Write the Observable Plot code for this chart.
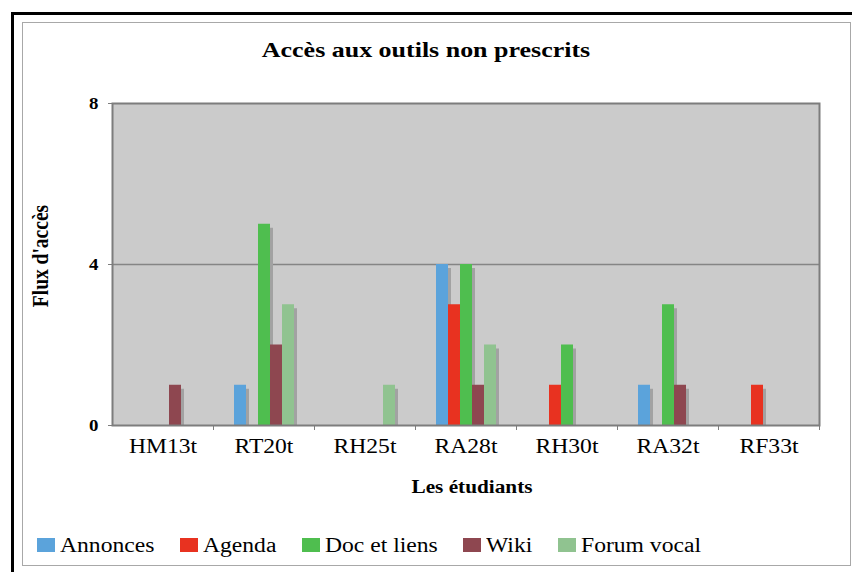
<!DOCTYPE html>
<html><head><meta charset="utf-8">
<script src="https://cdn.jsdelivr.net/npm/d3@7"></script>
<script src="https://cdn.jsdelivr.net/npm/@observablehq/plot@0.6"></script>
<style>
html,body{margin:0;padding:0;background:#fff;}
body{width:852px;height:572px;position:relative;overflow:hidden;font-family:"Liberation Serif","Times New Roman",serif;color:#000;}
#outer{position:absolute;left:11px;top:12px;width:900px;height:620px;border-left:3px solid #000;border-top:3px solid #000;}
#inner{position:absolute;left:22px;top:22px;width:827px;height:542px;border:1px solid #a8a8a8;}
#chart{position:absolute;left:0;top:0;}
.lbl{position:absolute;white-space:nowrap;line-height:1;font-weight:bold;}
#title{left:426px;top:39px;font-size:22px;transform:translateX(-50%) scaleX(1.18);}
#xlabel{left:472px;top:478px;font-size:18px;transform:translateX(-50%) scaleX(1.18);}
#ylabel{left:40px;top:256px;font-size:19.5px;transform:translate(-50%,-50%) rotate(-90deg) scale(1,1.2);}
#legend{position:absolute;left:37px;top:535px;display:flex;align-items:center;font-size:20px;line-height:1;}
#legend .item{display:flex;align-items:center;margin-right:25.5px;}
#legend .sw{display:inline-block;width:18px;height:14px;margin-right:5px;}
#legend .tx{display:inline-block;white-space:nowrap;}
#legend .tx span{display:inline-block;transform-origin:left center;}
</style></head>
<body>
<div id="chart"></div>
<div id="outer"></div>
<div id="inner"></div>
<div class="lbl" id="title">Accès aux outils non prescrits</div>
<div class="lbl" id="xlabel">Les étudiants</div>
<div class="lbl" id="ylabel">Flux d'accès</div>
<div id="legend"></div>
<script>
// ---- data ----
const students = ["HM13t","RT20t","RH25t","RA28t","RH30t","RA32t","RF33t"];
const series = ["Annonces","Agenda","Doc et liens","Wiki","Forum vocal"];
const colors = ["#5ba3db","#e83220","#4fbe4f","#8e4750","#90c390"];
const annonces = [0,1,0,4,0,1,0];
const agenda   = [0,0,0,3,1,0,1];
const doc      = [0,5,0,4,2,3,0];
const wiki     = [1,2,0,1,0,1,0];
const forum    = [0,3,1,2,0,0,0];
const yTicks = [0,4,8];

const values = [annonces, agenda, doc, wiki, forum];
const data = [];
students.forEach((s, i) => series.forEach((k, j) => {
  const v = values[j][i];
  if (v > 0) data.push({student: s, series: k, value: v});
}));

const W = 852, H = 470, ML = 112, MR = 33, MT = 103, MB = 45;
const half = (W - ML - MR) / students.length / 2;
const K = 1.18;
const axisColor = "#7d7d7d";

const chart = Plot.plot({
  width: W, height: H,
  marginLeft: ML, marginRight: MR, marginTop: MT, marginBottom: MB,
  style: {background: "transparent", fontFamily: "Liberation Serif, serif", color: "#000", overflow: "visible"},
  fx: {domain: students, padding: 0, label: null},
  x: {domain: series, paddingInner: 0, paddingOuter: 1.64, axis: null},
  y: {domain: [0, 8], axis: null},
  color: {domain: series, range: colors},
  marks: [
    Plot.frame({facet: "super", fill: "#cbcbcb"}),
    Plot.ruleY([4], {stroke: "#858585", strokeWidth: 1.5}),
    Plot.barY(data, {fx: "student", x: "series", y: "value", fill: "#a2a2a2", dx: 3, insetTop: 4}),
    Plot.barY(data, {fx: "student", x: "series", y: "value", fill: "series"}),
    Plot.frame({facet: "super", stroke: axisColor, strokeWidth: 2}),
    Plot.axisY({ticks: yTicks, tickSize: 4, tickPadding: 10, stroke: axisColor, fontSize: 16, fontWeight: "bold", label: null}),
    Plot.axisFx({anchor: "bottom", tickSize: 0, tickPadding: 13, fontSize: 20, label: null}),
    Plot.axisFx({anchor: "bottom", tickSize: 5, text: null, dx: half, stroke: axisColor, label: null})
  ]
});
document.getElementById("chart").appendChild(chart);

// widen tick labels horizontally to match the stretched serif lettering
chart.querySelectorAll('g[aria-label$="tick label"] text').forEach(t => {
  const tr = t.getAttribute("transform");
  if (tr) t.setAttribute("transform", tr + ` scale(${K},1)`);
  else {
    const x = +t.getAttribute("x") || 0, y = +t.getAttribute("y") || 0;
    t.removeAttribute("x"); t.removeAttribute("y");
    t.setAttribute("transform", `translate(${x},${y}) scale(${K},1)`);
  }
});

// legend
const legend = document.getElementById("legend");
series.forEach((s, i) => {
  const item = document.createElement("div"); item.className = "item";
  const sw = document.createElement("span"); sw.className = "sw"; sw.style.background = colors[i];
  const tx = document.createElement("span"); tx.className = "tx";
  const inner = document.createElement("span"); inner.textContent = s;
  tx.appendChild(inner); item.append(sw, tx); legend.appendChild(item);
});
legend.querySelectorAll(".tx").forEach(tx => {
  const w = tx.firstChild.getBoundingClientRect().width;
  tx.style.width = (w * K) + "px";
  tx.firstChild.style.transform = `scaleX(${K})`;
});
</script>
</body></html>
